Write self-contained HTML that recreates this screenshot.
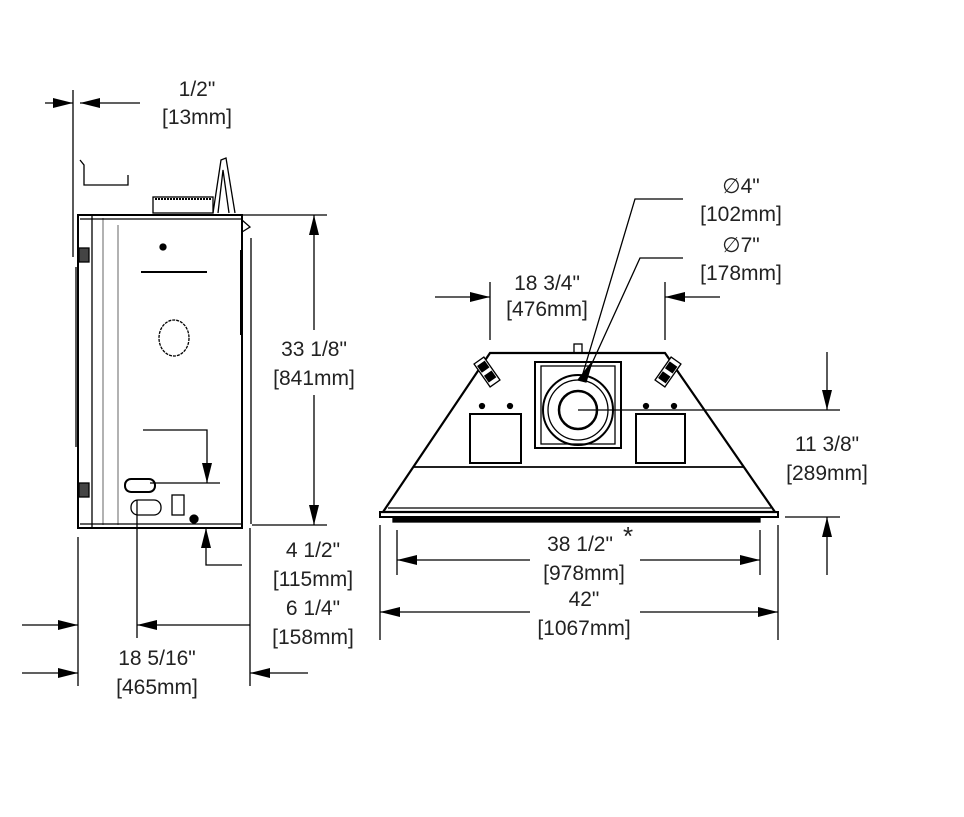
<!DOCTYPE html>
<html><head><meta charset="utf-8"><style>
html,body{margin:0;padding:0;background:#fff;}
svg{display:block;}
text{font-family:"Liberation Sans",sans-serif;font-size:21px;fill:#222;text-anchor:middle;}
</style></head><body>
<svg width="964" height="817" viewBox="0 0 964 817" xmlns="http://www.w3.org/2000/svg">
<defs>
<marker id="a" viewBox="0 0 20 10" refX="20" refY="5" markerWidth="20" markerHeight="10" markerUnits="userSpaceOnUse" orient="auto"><path d="M0,0L20,5L0,10z" fill="#000"/></marker>
</defs>
<g stroke="#000" fill="none" stroke-width="1.3">
<line x1="73" y1="90" x2="73" y2="257"/>
<line x1="76" y1="267" x2="76" y2="447"/>
<polyline points="80,160 84,165 84,185 128,185 128,175"/>
<rect x="78" y="215" width="164" height="313" stroke-width="2"/>
<line x1="92" y1="215" x2="92" y2="528"/>
<line x1="103" y1="218" x2="103" y2="525" stroke="#888"/>
<line x1="118" y1="225" x2="118" y2="525" stroke="#888"/>
<line x1="80" y1="219" x2="242" y2="219"/>
<line x1="80" y1="524" x2="242" y2="524"/>
<path d="M242,220 L250,227 L242,232"/>
<line x1="251" y1="238" x2="251" y2="524"/>
<line x1="241" y1="250" x2="241" y2="335" stroke-width="2"/>
<rect x="153" y="197" width="60" height="16"/>
<line x1="155" y1="199" x2="211" y2="199" stroke-dasharray="2,1" stroke-width="2"/>
<path d="M213,213 L221,160 L226,158 L235,213 M218,213 L223,170 L229,213"/>
<line x1="141" y1="272" x2="207" y2="272" stroke-width="2"/>
<ellipse cx="174" cy="338" rx="15" ry="18" stroke-dasharray="3,1"/>
<circle cx="163" cy="247" r="3" fill="#000"/>
<rect x="125" y="479" width="30" height="13" rx="6" stroke-width="2"/>
<rect x="131" y="500" width="30" height="15" rx="7"/>
<rect x="172" y="495" width="12" height="20"/>
<circle cx="194" cy="519" r="4" fill="#000"/>
<rect x="79" y="248" width="10" height="14" fill="#444"/>
<rect x="79" y="483" width="10" height="14" fill="#444"/>
<line x1="45" y1="103" x2="73" y2="103" marker-end="url(#a)"/>
<line x1="140" y1="103" x2="80" y2="103" marker-end="url(#a)"/>
<line x1="240" y1="215" x2="327" y2="215"/>
<line x1="252" y1="525" x2="327" y2="525"/>
<line x1="314" y1="330" x2="314" y2="215" marker-end="url(#a)"/>
<line x1="314" y1="395" x2="314" y2="525" marker-end="url(#a)"/>
<polyline points="143,430 207,430 207,483" marker-end="url(#a)"/>
<line x1="150" y1="483" x2="220" y2="483"/>
<polyline points="242,565 206,565 206,528" marker-end="url(#a)"/>
<line x1="78" y1="537" x2="78" y2="686"/>
<line x1="137" y1="500" x2="137" y2="638"/>
<line x1="250" y1="528" x2="250" y2="686"/>
<line x1="22" y1="625" x2="78" y2="625" marker-end="url(#a)"/>
<line x1="250" y1="625" x2="137" y2="625" marker-end="url(#a)"/>
<line x1="22" y1="673" x2="78" y2="673" marker-end="url(#a)"/>
<line x1="308" y1="673" x2="250" y2="673" marker-end="url(#a)"/>
<polygon points="490,353 665,353 775,512 383,512" stroke-width="2.2"/>
<line x1="414" y1="467" x2="744" y2="467" stroke-width="1.8"/>
<line x1="388" y1="508" x2="771" y2="508"/>
<rect x="380" y="512" width="398" height="5" stroke-width="2"/>
<rect x="393" y="517" width="367" height="5" fill="#000"/>
<rect x="574" y="344" width="8" height="9"/>
<rect x="535" y="362" width="86" height="86" stroke-width="2"/>
<rect x="541" y="366" width="74" height="78"/>
<circle cx="578" cy="410" r="35" stroke-width="2"/>
<circle cx="578" cy="410" r="30"/>
<circle cx="578" cy="410" r="19" stroke-width="2.5"/>
<rect x="470" y="414" width="51" height="49" stroke-width="2"/>
<rect x="636" y="414" width="49" height="49" stroke-width="2"/>
<circle cx="482" cy="406" r="2.5" fill="#000"/><circle cx="510" cy="406" r="2.5" fill="#000"/>
<circle cx="646" cy="406" r="2.5" fill="#000"/><circle cx="674" cy="406" r="2.5" fill="#000"/>
<g transform="translate(487,372) rotate(55)"><rect x="-14" y="-6" width="28" height="12" fill="#fff"/><rect x="-10" y="-4" width="7" height="8" fill="#000"/><rect x="2" y="-4" width="7" height="8" fill="#000"/></g>
<g transform="translate(668,372) rotate(-55)"><rect x="-14" y="-6" width="28" height="12" fill="#fff"/><rect x="-10" y="-4" width="7" height="8" fill="#000"/><rect x="2" y="-4" width="7" height="8" fill="#000"/></g>
<polyline points="683,199 635,199 581,380"/>
<polyline points="683,258 640,258 588,372"/>
<path d="M578,380 L592,362 L586,382 z" fill="#000"/>
<line x1="578" y1="410" x2="840" y2="410"/>
<line x1="827" y1="352" x2="827" y2="410" marker-end="url(#a)"/>
<line x1="827" y1="575" x2="827" y2="517" marker-end="url(#a)"/>
<line x1="785" y1="517" x2="840" y2="517"/>
<line x1="490" y1="282" x2="490" y2="340"/>
<line x1="665" y1="282" x2="665" y2="340"/>
<line x1="435" y1="297" x2="490" y2="297" marker-end="url(#a)"/>
<line x1="720" y1="297" x2="665" y2="297" marker-end="url(#a)"/>
<line x1="397" y1="530" x2="397" y2="575"/>
<line x1="760" y1="530" x2="760" y2="575"/>
<line x1="530" y1="560" x2="397" y2="560" marker-end="url(#a)"/>
<line x1="640" y1="560" x2="760" y2="560" marker-end="url(#a)"/>
<line x1="380" y1="525" x2="380" y2="640"/>
<line x1="778" y1="525" x2="778" y2="640"/>
<line x1="530" y1="612" x2="380" y2="612" marker-end="url(#a)"/>
<line x1="640" y1="612" x2="778" y2="612" marker-end="url(#a)"/>
</g>
<text x="197" y="96">1/2"</text>
<text x="197" y="124">[13mm]</text>
<text x="314" y="356">33 1/8"</text>
<text x="314" y="385">[841mm]</text>
<text x="313" y="557">4 1/2"</text>
<text x="313" y="586">[115mm]</text>
<text x="313" y="615">6 1/4"</text>
<text x="313" y="644">[158mm]</text>
<text x="157" y="665">18 5/16"</text>
<text x="157" y="694">[465mm]</text>
<text x="741" y="193">∅4"</text>
<text x="741" y="221">[102mm]</text>
<text x="741" y="252">∅7"</text>
<text x="741" y="280">[178mm]</text>
<text x="547" y="290">18 3/4"</text>
<text x="547" y="316">[476mm]</text>
<text x="827" y="451">11 3/8"</text>
<text x="827" y="480">[289mm]</text>
<text x="580" y="551">38 1/2"</text>
<text x="628" y="545" style="font-size:26px">*</text>
<text x="584" y="580">[978mm]</text>
<text x="584" y="606">42"</text>
<text x="584" y="635">[1067mm]</text>
</svg>
</body></html>
